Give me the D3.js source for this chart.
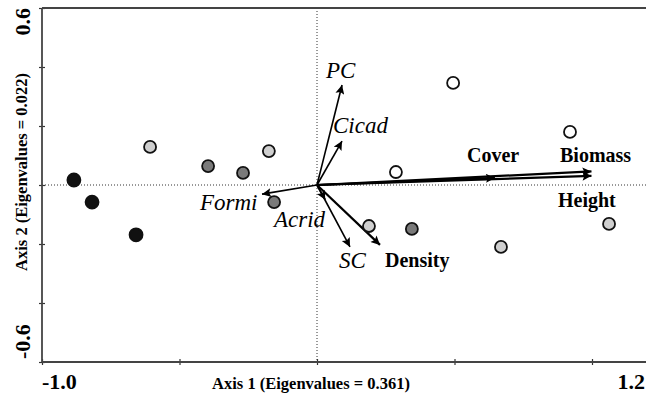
<!DOCTYPE html>
<html>
<head>
<meta charset="utf-8">
<script src="https://cdn.jsdelivr.net/npm/d3@7"></script>
<style>
  body { margin: 0; background: #fff; }
  text { font-family: "Liberation Serif", "Times New Roman", serif; }
</style>
</head>
<body>
<script>
// site scores (axis 1, axis 2), grouped by fill
var blackSites = [[-0.884, 0.017], [-0.818, -0.058], [-0.658, -0.169]];
var darkSites = [[-0.396, 0.064], [-0.269, 0.041], [-0.156, -0.058], [0.345, -0.149]];
var lightSites = [[-0.607, 0.129], [-0.175, 0.115], [0.189, -0.139], [0.669, -0.210], [1.062, -0.132]];
var whiteSites = [[0.495, 0.346], [0.920, 0.180], [0.287, 0.044]];

// species arrows (italic)
var speciesNames = ['PC', 'Cicad', 'Formi', 'Acrid', 'SC'];
var speciesX = [0.091, 0.091, -0.200, 0.030, 0.120];
var speciesY = [0.339, 0.149, -0.031, -0.050, -0.210];

// environmental arrows (bold)
var envNames = ['Density', 'Cover', 'Biomass', 'Height'];
var envX = [0.229, 0.647, 0.998, 0.998];
var envY = [-0.203, 0.024, 0.046, 0.031];

var xTicks = [-1.0, -0.5, 0, 0.5, 1.0];
var yTicks = [-0.6, -0.4, -0.2, 0, 0.2, 0.4, 0.6];
var xEnds = ['-1.0', '1.2'];
var yEnds = ['-0.6', '0.6'];

var svg = d3.select('body').append('svg')
    .attr('width', 646)
    .attr('height', 395);

var x = d3.scaleLinear().domain([-1.0, 1.2]).range([42, 647]);
var y = d3.scaleLinear().domain([-0.6, 0.6]).range([362, 8]);

var defs = svg.append('defs');
defs.append('marker')
    .attr('id', 'head')
    .attr('viewBox', '0 0 10 10')
    .attr('refX', 10)
    .attr('refY', 5)
    .attr('markerWidth', 13)
    .attr('markerHeight', 9)
    .attr('markerUnits', 'userSpaceOnUse')
    .attr('orient', 'auto')
    .append('path')
    .attr('d', 'M0,0 L10,5 L0,10 L2,5 Z')
    .attr('fill', '#000');

// dotted zero lines
svg.append('line')
    .attr('x1', x(-1.0)).attr('x2', 646)
    .attr('y1', y(0)).attr('y2', y(0))
    .attr('stroke', '#333').attr('stroke-width', 1)
    .attr('stroke-dasharray', '1,2');
svg.append('line')
    .attr('x1', x(0)).attr('x2', x(0))
    .attr('y1', y(0.6)).attr('y2', y(-0.6))
    .attr('stroke', '#333').attr('stroke-width', 1)
    .attr('stroke-dasharray', '1,2');

// axes
svg.append('g')
    .attr('transform', 'translate(0,' + (y(-0.6) - 3) + ')')
    .call(d3.axisBottom(x).tickValues(xTicks).tickSize(6).tickFormat(''));
svg.append('g')
    .attr('transform', 'translate(' + (x(-1.0) + 3) + ',0)')
    .call(d3.axisLeft(y).tickValues(yTicks).tickSize(6).tickFormat(''));
svg.selectAll('.domain').remove();
svg.selectAll('.tick line').attr('stroke', '#333').attr('stroke-width', 1.2);

svg.append('line')
    .attr('x1', x(-1.0)).attr('x2', 646)
    .attr('y1', y(-0.6)).attr('y2', y(-0.6))
    .attr('stroke', '#444').attr('stroke-width', 1.8);
svg.append('line')
    .attr('x1', x(-1.0)).attr('x2', 646)
    .attr('y1', y(0.6)).attr('y2', y(0.6))
    .attr('stroke', '#444').attr('stroke-width', 1.8);
svg.append('line')
    .attr('x1', x(-1.0)).attr('x2', x(-1.0))
    .attr('y1', y(0.6)).attr('y2', y(-0.6))
    .attr('stroke', '#444').attr('stroke-width', 1.8);

// end labels
svg.append('text').text(xEnds[0])
    .attr('x', x(-1.0)).attr('y', 389)
    .attr('font-size', 22).attr('font-weight', 'bold');
svg.append('text').text(xEnds[1])
    .attr('x', 645).attr('y', 389)
    .attr('text-anchor', 'end')
    .attr('font-size', 22).attr('font-weight', 'bold');
svg.append('text').text(yEnds[1])
    .attr('transform', 'translate(30,' + y(0.6) + ') rotate(-90)')
    .attr('text-anchor', 'end')
    .attr('font-size', 22).attr('font-weight', 'bold');
svg.append('text').text(yEnds[0])
    .attr('transform', 'translate(30,' + (y(-0.6) - 3) + ') rotate(-90)')
    .attr('text-anchor', 'start')
    .attr('font-size', 22).attr('font-weight', 'bold');

svg.append('text').text('Axis 1 (Eigenvalues = 0.361)')
    .attr('x', 311).attr('y', 389)
    .attr('text-anchor', 'middle')
    .attr('font-size', 16.5).attr('font-weight', 'bold');
svg.append('text').text('Axis 2 (Eigenvalues = 0.022)')
    .attr('transform', 'translate(27,172) rotate(-90)')
    .attr('text-anchor', 'middle')
    .attr('font-size', 16.5).attr('font-weight', 'bold');

// arrows
var envData = envNames.map(function(n, i) { return { name: n, x: envX[i], y: envY[i] }; });
var spData = speciesNames.map(function(n, i) { return { name: n, x: speciesX[i], y: speciesY[i] }; });

svg.selectAll('.env').data(envData).enter().append('line')
    .attr('class', 'env')
    .attr('x1', x(0)).attr('y1', y(0))
    .attr('x2', function(d) { return x(d.x); })
    .attr('y2', function(d) { return y(d.y); })
    .attr('stroke', '#000').attr('stroke-width', 2.2)
    .attr('marker-end', 'url(#head)');

svg.selectAll('.sp').data(spData).enter().append('line')
    .attr('class', 'sp')
    .attr('x1', x(0)).attr('y1', y(0))
    .attr('x2', function(d) { return x(d.x); })
    .attr('y2', function(d) { return y(d.y); })
    .attr('stroke', '#000').attr('stroke-width', 1.6)
    .attr('marker-end', 'url(#head)');

// points
function drawSites(data, fill, r) {
    svg.selectAll(null).data(data).enter().append('circle')
        .attr('cx', function(d) { return x(d[0]); })
        .attr('cy', function(d) { return y(d[1]); })
        .attr('r', r)
        .attr('fill', fill)
        .attr('stroke', '#111')
        .attr('stroke-width', 1.8);
}
drawSites(blackSites, '#111', 6.5);
drawSites(darkSites, '#7a7a7a', 6);
drawSites(lightSites, '#cfcfcf', 6);
drawSites(whiteSites, '#fff', 6);

// labels for arrows
var spLabelPos = { PC: [326, 78], Cicad: [333, 133], Formi: [200, 210], Acrid: [274, 227], SC: [339, 268] };
var envLabelPos = { Density: [385, 267], Cover: [467, 162], Biomass: [560, 162], Height: [558, 207] };

svg.selectAll('.spl').data(spData).enter().append('text')
    .attr('class', 'spl')
    .text(function(d) { return d.name; })
    .attr('x', function(d) { return spLabelPos[d.name][0]; })
    .attr('y', function(d) { return spLabelPos[d.name][1]; })
    .attr('font-size', 23).attr('font-style', 'italic');

svg.selectAll('.envl').data(envData).enter().append('text')
    .attr('class', 'envl')
    .text(function(d) { return d.name; })
    .attr('x', function(d) { return envLabelPos[d.name][0]; })
    .attr('y', function(d) { return envLabelPos[d.name][1]; })
    .attr('font-size', 20).attr('font-weight', 'bold');
</script>
</body>
</html>
